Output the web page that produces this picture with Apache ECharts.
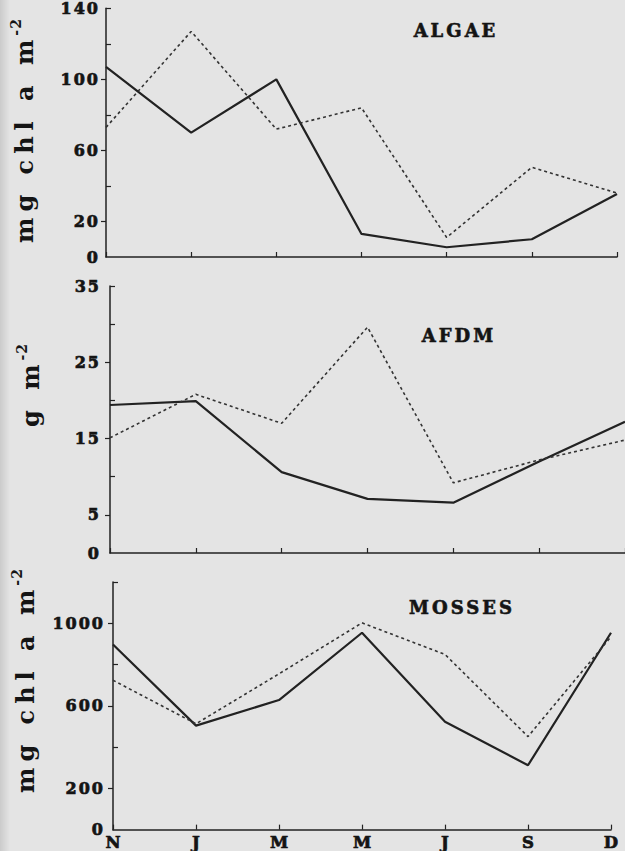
<!DOCTYPE html>
<html>
<head>
<meta charset="utf-8">
<script src="https://cdn.jsdelivr.net/npm/echarts@6/dist/echarts.min.js"></script>
<style>
html,body{margin:0;padding:0;background:#e4e4e4;}
#c{width:625px;height:851px;}
#c text[style*="16px"],#c text[font-size="16px"]{letter-spacing:2px;}
#c text[style*="18px"],#c text[font-size="18px"]{letter-spacing:3px;}
#c text[style*="24px"],#c text[font-size="24px"]{letter-spacing:6px;}
#c text[style*="14px"],#c text[font-size="14px"]{letter-spacing:1px;}
</style>
</head>
<body>
<div id="c"></div>
<script>
// ---- data ----
var months = ['N', 'J', 'M', 'M', 'J', 'S', 'D'];
var algaeSolid  = [107, 70, 100, 13, 5.5, 10, 35.5];
var algaeDashed = [73, 127, 72, 84, 11, 50.5, 36];
var afdmSolid   = [19.4, 19.9, 10.6, 7.1, 6.6, 12, 17.2];
var afdmDashed  = [15.1, 20.8, 17, 29.6, 9.2, 12.2, 14.8];
var mossSolid   = [897, 504, 628, 954, 523, 312, 954];
var mossDashed  = [724, 513, 755, 1002, 849, 451, 935];
var algaeLabels = [0, 20, 60, 100, 140];
var algaeMinor  = [40, 80, 120, 140];
var afdmLabels  = [0, 5, 15, 25, 35];
var afdmMinor   = [10, 20, 30, 35];
var mossLabels  = [0, 200, 600, 1000];
var mossMinor   = [400, 800, 1200];
var titles = ['ALGAE', 'AFDM', 'MOSSES'];
var yNameTexts = ['mg chl a m', 'g m', 'mg chl a m'];
var yNameSup = '-2';

var FONT = 'DejaVu Serif';
var INK = '#222222';
var TXT = '#141414';

var chart = echarts.init(document.getElementById('c'), null, {renderer: 'svg'});

var grids = [
  {left: 106, top: 5, width: 511, height: 252},
  {left: 110, top: 286, width: 519, height: 267},
  {left: 113, top: 582, width: 498, height: 250}
];
var ranges = [[0, 140], [0, 35], [0, 1200]];
var labelVals = [algaeLabels, afdmLabels, mossLabels];
var minorVals = [algaeMinor, afdmMinor, mossMinor];
var outTicks = [[20, 60, 100], [5, 15, 25], [200, 600, 1000]];
var margins = [6, 9, 8];

var xAxes = [], yAxes = [], series = [];
for (var i = 0; i < 3; i++) {
  xAxes.push({
    type: 'category', gridIndex: i, data: months, boundaryGap: false,
    axisLine: {show: true, lineStyle: {color: INK, width: 1.5}},
    axisTick: {show: true, inside: true, length: 5, lineStyle: {color: INK, width: 1.2}},
    axisLabel: {show: i === 2, color: TXT, fontFamily: FONT, fontWeight: 'bold', fontSize: 16.5, margin: 4,
      textBorderColor: TXT, textBorderWidth: 0.7},
    splitLine: {show: false}
  });
  yAxes.push({
    type: 'value', gridIndex: i, position: 'left', min: ranges[i][0], max: ranges[i][1],
    axisLine: {show: true, lineStyle: {color: INK, width: 1.5}},
    axisTick: {show: true, inside: false, length: 5, customValues: outTicks[i], lineStyle: {color: INK, width: 1.2}},
    axisLabel: {show: true, customValues: labelVals[i], color: TXT, fontFamily: FONT, fontWeight: 'bold', fontSize: 16, margin: margins[i],
      textBorderColor: TXT, textBorderWidth: 0.7,
      formatter: function (v) { return String(v); }},
    splitLine: {show: false}
  });
  yAxes.push({
    type: 'value', gridIndex: i, position: 'left', offset: 0, min: ranges[i][0], max: ranges[i][1],
    axisLine: {show: false},
    axisTick: {show: true, inside: true, length: 5, customValues: minorVals[i], lineStyle: {color: INK, width: 1.2}},
    axisLabel: {show: false},
    splitLine: {show: false}
  });
}
var solids = [algaeSolid, afdmSolid, mossSolid];
var dashes = [algaeDashed, afdmDashed, mossDashed];
for (var k = 0; k < 3; k++) {
  series.push({
    type: 'line', xAxisIndex: k, yAxisIndex: k * 2, data: solids[k], symbol: 'none',
    lineStyle: {color: INK, width: 2.2}, silent: true
  });
  series.push({
    type: 'line', xAxisIndex: k, yAxisIndex: k * 2, data: dashes[k], symbol: 'none',
    lineStyle: {color: '#333', width: 1.6, type: [3, 3]}, silent: true
  });
}

var titlePos = [[456, 30], [459, 335], [462, 607]];
var graphics = [
  {type: 'rect', left: 0, top: 0, shape: {width: 10, height: 851}, silent: true,
   style: {fill: new echarts.graphic.LinearGradient(0, 0, 1, 0, [{offset: 0, color: '#cbcbcb'}, {offset: 1, color: '#e4e4e4'}])}}
];
for (var t = 0; t < 3; t++) {
  graphics.push({
    type: 'text', x: titlePos[t][0], y: titlePos[t][1], silent: true,
    style: {text: titles[t], fill: TXT, font: 'bold 18px "' + FONT + '"', align: 'center', verticalAlign: 'middle',
      stroke: TXT, lineWidth: 0.6}
  });
}
// y-axis names: main text + superscript, rotated
var mctx = document.createElement('canvas').getContext('2d');
mctx.font = 'bold 24px "' + FONT + '"';
var namePos = [[24, 243], [30, 427], [25, 793]];
for (var n = 0; n < 3; n++) {
  var s = yNameTexts[n];
  var w = mctx.measureText(s).width + 6 * s.length;
  graphics.push({
    type: 'group', x: namePos[n][0], y: namePos[n][1], rotation: Math.PI / 2, silent: true,
    children: [
      {type: 'text', x: 0, y: 0, style: {text: s, fill: TXT, font: 'bold 24px "' + FONT + '"', align: 'left', verticalAlign: 'middle'}},
      {type: 'text', x: w - 2, y: -8, style: {text: yNameSup, fill: TXT, font: 'bold 14px "' + FONT + '"', align: 'left', verticalAlign: 'middle'}}
    ]
  });
}

chart.setOption({
  animation: false,
  backgroundColor: 'transparent',
  grid: grids,
  xAxis: xAxes,
  yAxis: yAxes,
  series: series,
  graphic: graphics
});
</script>
</body>
</html>
